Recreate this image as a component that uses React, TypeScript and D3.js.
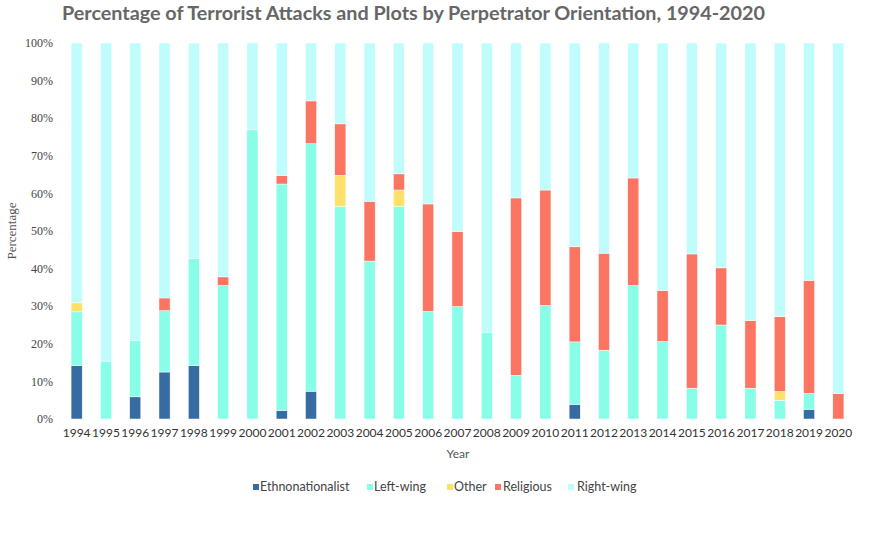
import * as d3 from 'd3';

// Share of attacks and plots per year, by perpetrator orientation (percent)
const years = [
  '1994', '1995', '1996', '1997', '1998', '1999', '2000', '2001', '2002',
  '2003', '2004', '2005', '2006', '2007', '2008', '2009', '2010', '2011',
  '2012', '2013', '2014', '2015', '2016', '2017', '2018', '2019', '2020',
];

const ethnonationalist = [
  14.2, 0, 5.9, 12.5, 14.2, 0, 0, 2.3, 7.4, 0, 0, 0, 0, 0, 0, 0, 0, 3.9, 0,
  0, 0, 0, 0, 0, 0, 2.6, 0,
];
const leftWing = [
  14.3, 15.4, 14.9, 16.3, 28.5, 35.5, 76.9, 60.2, 65.8, 56.6, 42.0, 56.6,
  28.6, 29.9, 23.1, 11.6, 30.2, 16.6, 18.3, 35.5, 20.6, 8.2, 25.0, 8.2, 5.0,
  4.2, 0,
];
const other = [
  2.4, 0, 0, 0, 0, 0, 0, 0, 0, 8.2, 0, 4.3, 0, 0, 0, 0, 0, 0, 0, 0, 0, 0, 0,
  0, 2.3, 0, 0,
];
const religious = [
  0, 0, 0, 3.4, 0, 2.3, 0, 2.3, 11.4, 13.7, 15.9, 4.3, 28.6, 20.0, 0, 47.2,
  30.7, 25.3, 25.8, 28.6, 13.6, 35.7, 15.2, 18.0, 19.9, 30.1, 6.8,
];
const rightWing = [
  69.1, 84.6, 79.2, 67.8, 57.3, 62.2, 23.1, 35.2, 15.4, 21.5, 42.1, 34.8,
  42.8, 50.1, 76.9, 41.2, 39.1, 54.2, 55.9, 35.9, 65.8, 56.1, 59.8, 73.8,
  72.8, 63.1, 93.2,
];

const yTicks = [0, 10, 20, 30, 40, 50, 60, 70, 80, 90, 100];

const series = [
  { key: 'Ethnonationalist', values: ethnonationalist, color: '#376CA2' },
  { key: 'Left-wing', values: leftWing, color: '#88FDE8' },
  { key: 'Other', values: other, color: '#FEE06A' },
  { key: 'Religious', values: religious, color: '#FC7562' },
  { key: 'Right-wing', values: rightWing, color: '#C0FCFC' },
];

type Row = { year: string } & Record<string, number | string>;

const rows: Row[] = years.map((year, i) => {
  const row: Row = { year };
  series.forEach((s) => {
    row[s.key] = s.values[i];
  });
  return row;
});

const width = 893;
const height = 537;
const margin = { top: 43, right: 40, bottom: 118, left: 62 };

export default function App() {
  const x = d3
    .scaleBand<string>()
    .domain(years)
    .range([margin.left, width - margin.right])
    .paddingInner(0.62)
    .paddingOuter(0.31);

  const y = d3
    .scaleLinear()
    .domain([0, 100])
    .range([height - margin.bottom, margin.top]);

  const stacked = d3
    .stack<Row>()
    .keys(series.map((s) => s.key))
    .value((d, key) => d[key] as number)(rows);

  // legend swatch / label x positions
  const legendItems = [
    { key: 'Ethnonationalist', sq: 253, tx: 260 },
    { key: 'Left-wing', sq: 367, tx: 374 },
    { key: 'Other', sq: 447, tx: 454 },
    { key: 'Religious', sq: 495, tx: 503 },
    { key: 'Right-wing', sq: 568, tx: 577 },
  ];

  return (
    <svg
      width={width}
      height={height}
      style={{ position: 'absolute', left: 0, top: 0, background: '#fff' }}
    >
      <text
        x={62}
        y={20}
        fontFamily="Lato, 'Open Sans', sans-serif"
        fontWeight={700}
        fontSize={19.8}
        textLength={703}
        fill="#666"
      >
        Percentage of Terrorist Attacks and Plots by Perpetrator Orientation, 1994-2020
      </text>

      {/* y axis tick labels */}
      {yTicks.map((t) => (
        <text
          key={t}
          x={53}
          y={y(t)}
          dy="0.35em"
          textAnchor="end"
          fontFamily="'Liberation Serif', serif"
          fontSize={12}
          fill="#444"
        >
          {t}%
        </text>
      ))}

      <text
        transform={`translate(16,${y(50)}) rotate(-90)`}
        textAnchor="middle"
        fontFamily="'Liberation Serif', serif"
        fontSize={13}
        fill="#555"
      >
        Percentage
      </text>

      {/* stacked bars */}
      {stacked.map((layer, li) => (
        <g key={layer.key} fill={series[li].color}>
          {layer.map((d) =>
            d[1] - d[0] > 0 ? (
              <rect
                key={d.data.year}
                x={x(d.data.year)}
                y={y(d[1])}
                width={x.bandwidth()}
                height={y(d[0]) - y(d[1])}
                stroke="#fff"
                strokeWidth={0.5}
              />
            ) : null,
          )}
        </g>
      ))}

      {/* x axis labels */}
      {years.map((yr) => (
        <text
          key={yr}
          x={(x(yr) ?? 0) + x.bandwidth() / 2}
          y={437}
          textAnchor="middle"
          fontFamily="Lato, sans-serif"
          fontSize={12}
          fill="#333"
        >
          {yr}
        </text>
      ))}

      <text
        x={458}
        y={458}
        textAnchor="middle"
        fontFamily="Lato, sans-serif"
        fontSize={12}
        fill="#555"
      >
        Year
      </text>

      {/* legend */}
      {legendItems.map((item) => {
        const s = series.find((c) => c.key === item.key)!;
        return (
          <g key={item.key}>
            <rect x={item.sq} y={484} width={6} height={6} fill={s.color} />
            <text
              x={item.tx}
              y={487}
              dy="0.35em"
              fontFamily="Lato, sans-serif"
              fontSize={12.5}
              fill="#444"
            >
              {item.key}
            </text>
          </g>
        );
      })}
    </svg>
  );
}
